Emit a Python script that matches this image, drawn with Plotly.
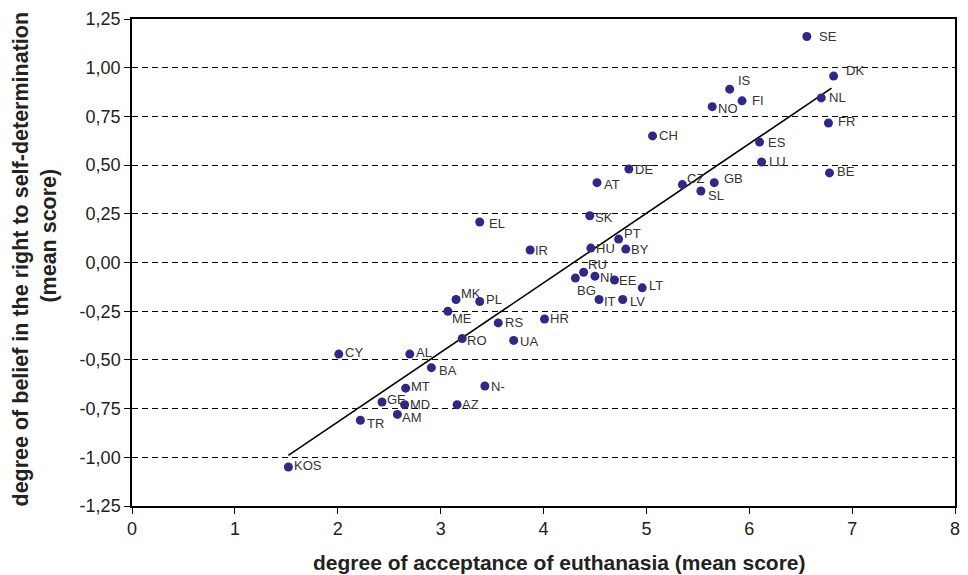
import plotly.graph_objects as go

# ---------------- data ----------------
countries = ["SE", "DK", "IS", "FI", "NO", "NL", "FR", "CH", "ES", "LU", "BE",
             "DE", "AT", "CZ", "GB", "SL", "SK", "EL", "IR", "PT", "HU", "BY",
             "RU", "BG", "NI", "EE", "LT", "IT", "LV", "MK", "PL", "ME", "RS",
             "HR", "RO", "UA", "CY", "AL", "BA", "MT", "N-", "GE", "MD", "AZ",
             "AM", "TR", "KOS"]
euthanasia = [6.56, 6.82, 5.81, 5.93, 5.64, 6.70, 6.77, 5.06, 6.10, 6.12, 6.78,
              4.83, 4.52, 5.35, 5.66, 5.53, 4.45, 3.38, 3.87, 4.73, 4.46, 4.80,
              4.39, 4.31, 4.50, 4.69, 4.96, 4.54, 4.77, 3.15, 3.38, 3.07, 3.56,
              4.01, 3.21, 3.71, 2.01, 2.70, 2.91, 2.66, 3.43, 2.43, 2.65, 3.16,
              2.58, 2.22, 1.52]
self_determination = [1.16, 0.957, 0.89, 0.83, 0.80, 0.845, 0.716, 0.65, 0.618, 0.516, 0.46,
                      0.48, 0.41, 0.40, 0.41, 0.367, 0.24, 0.208, 0.064, 0.12, 0.074, 0.069,
                      -0.05, -0.08, -0.07, -0.09, -0.13, -0.19, -0.19, -0.19, -0.20, -0.25, -0.31,
                      -0.29, -0.39, -0.40, -0.47, -0.47, -0.54, -0.645, -0.634, -0.716, -0.73, -0.73,
                      -0.78, -0.81, -1.05]
trend_x = [1.52, 6.80]
trend_y = [-0.99, 0.895]

x_ticks = [0, 1, 2, 3, 4, 5, 6, 7, 8]
y_ticks = [1.25, 1.0, 0.75, 0.5, 0.25, 0.0, -0.25, -0.5, -0.75, -1.0, -1.25]
y_ticktext = ["1,25", "1,00", "0,75", "0,50", "0,25", "0,00", "-0,25", "-0,50",
              "-0,75", "-1,00", "-1,25"]

x_title = "degree of acceptance of euthanasia (mean score)"
y_title_1 = "degree of belief in the right to self-determination"
y_title_2 = "(mean score)"

# ---------------- label offsets (style) ----------------
label_offsets = {
    "SE": (10, 0), "DK": (10, 6), "IS": (6, 9), "FI": (8, 0), "NO": (4, -2),
    "NL": (6, 0), "FR": (8, 2), "CH": (4, 0), "ES": (6, 0), "LU": (5, 0),
    "BE": (6, 1), "DE": (4, 0), "AT": (5, -2), "CZ": (3, 6), "GB": (8, 4),
    "SL": (5, -4), "SK": (3, -2), "EL": (7, -2), "IR": (3, 0), "PT": (3, 6),
    "HU": (3, 0), "BY": (3, 0), "RU": (2, 8), "BG": (0, -12), "NI": (3, -1),
    "EE": (3, 0), "LT": (5, 2), "IT": (3, -2), "LV": (5, -2), "MK": (3, 6),
    "PL": (4, 2), "ME": (2, -7), "RS": (5, 0), "HR": (3, 0), "RO": (3, -2),
    "UA": (4, -1), "CY": (4, 2), "AL": (4, 2), "BA": (6, -3), "MT": (3, 2),
    "N-": (4, 0), "GE": (3, 2), "MD": (3, 0), "AZ": (3, 0), "AM": (3, -3),
    "TR": (5, -3), "KOS": (4, 2),
}

FONT = "Liberation Sans, Arial, Helvetica, sans-serif"

fig = go.Figure()

fig.add_trace(go.Scatter(
    x=trend_x, y=trend_y, mode="lines",
    line=dict(color="black", width=1.6), hoverinfo="skip", showlegend=False))

fig.add_trace(go.Scatter(
    x=euthanasia, y=self_determination, mode="markers",
    marker=dict(color="#2E2888", size=9, line=dict(width=0)),
    text=countries, showlegend=False))

for name, xv, yv in zip(countries, euthanasia, self_determination):
    dx, dy = label_offsets.get(name, (4, 0))
    fig.add_annotation(
        x=xv, y=yv, text=name, showarrow=False,
        xanchor="left", yanchor="middle", xshift=dx, yshift=dy,
        font=dict(family=FONT, size=13, color="#333333"))

fig.add_annotation(
    x=0.519, y=-0.117, xref="paper", yref="paper", showarrow=False,
    xanchor="center", yanchor="middle", text=x_title,
    font=dict(family=FONT, size=21, color="#222222", weight="bold"))

y_title_font = dict(family=FONT, size=21.5, color="#222222", weight="bold")

fig.add_annotation(
    x=-0.135, y=0.508, xref="paper", yref="paper", showarrow=False,
    xanchor="center", yanchor="middle", textangle=-90,
    text=y_title_1, font=y_title_font)

fig.add_annotation(
    x=-0.101, y=0.555, xref="paper", yref="paper", showarrow=False,
    xanchor="center", yanchor="middle", textangle=-90,
    text=y_title_2, font=y_title_font)

axis_font = dict(family=FONT, size=18, color="#222222")

fig.update_xaxes(
    range=[0, 8], tickvals=x_ticks, ticktext=[str(v) for v in x_ticks],
    showgrid=False, zeroline=False, showline=True, linecolor="black", linewidth=1.5,
    mirror=True, ticks="outside", ticklen=6, tickcolor="black", tickfont=axis_font)

fig.update_yaxes(
    range=[-1.25, 1.25], tickvals=y_ticks, ticktext=y_ticktext,
    showgrid=True, gridcolor="black", gridwidth=1, griddash="6px,4px",
    zeroline=False, showline=True, linecolor="black", linewidth=1.5,
    mirror=True, ticks="outside", ticklen=6, tickcolor="black", tickfont=axis_font)

fig.update_layout(
    width=968, height=575,
    margin=dict(l=132, r=8, t=19, b=69),
    paper_bgcolor="white", plot_bgcolor="white",
    showlegend=False)

fig.write_html("out.html")
